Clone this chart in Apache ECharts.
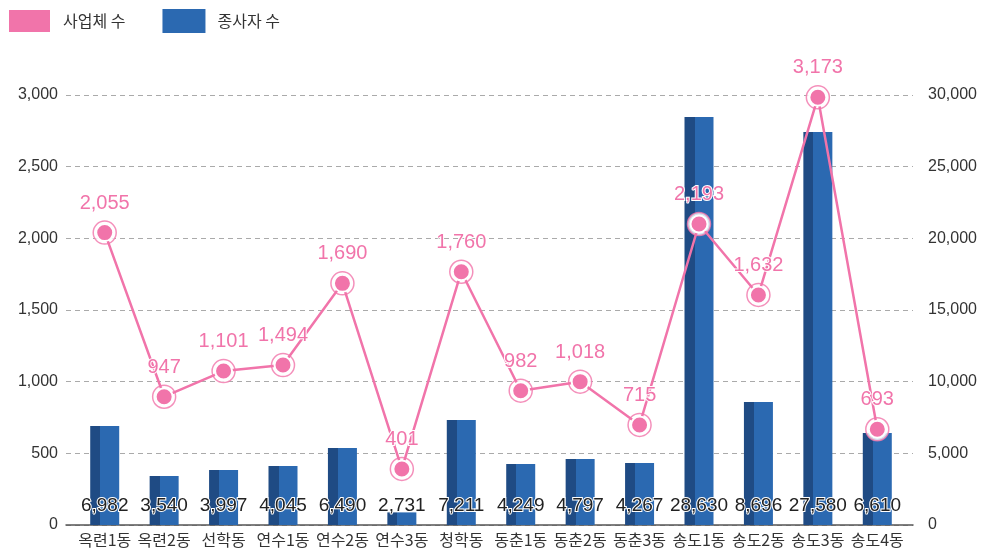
<!DOCTYPE html>
<html><head><meta charset="utf-8">
<script src="https://cdn.jsdelivr.net/npm/echarts@6/dist/echarts.min.js"></script>
<style>html,body{margin:0;padding:0;background:#fff}#c{width:987px;height:552px}</style>
</head><body><div id="c"></div>
<script>
const categories = ['옥련1동','옥련2동','선학동','연수1동','연수2동','연수3동','청학동','동춘1동','동춘2동','동춘3동','송도1동','송도2동','송도3동','송도4동'];
// plotted mark values (as drawn)
const bizValues = [2040, 895, 1074, 1116, 1686, 391, 1767, 937, 1000, 698, 2100, 1605, 2984, 668];
const empValues = [6907, 3419, 3837, 4116, 5372, 880, 7326, 4256, 4605, 4326, 28465, 8581, 27419, 6419];
// printed label texts
const bizLabels = [2055, 947, 1101, 1494, 1690, 401, 1760, 982, 1018, 715, 2193, 1632, 3173, 693];
const empLabels = [6982, 3540, 3997, 4045, 6490, 2731, 7211, 4249, 4797, 4267, 28630, 8696, 27580, 6610];
const leftTicks = {min: 0, max: 3000, interval: 500};
const rightTicks = {min: 0, max: 30000, interval: 5000};

const PINK = '#f174aa';
const DARK = '#1f4b84';
const BLUE = '#2b69b1';
const fmt = v => Number(v).toLocaleString('en-US');
const NUMFONT = 'Liberation Sans';

const chart = echarts.init(document.getElementById('c'));
chart.setOption({
  animation: false,
  legend: {
    left: 7, top: 8, padding: 0, itemWidth: 43, itemHeight: 24, itemGap: 37,
    icon: 'rect',
    textStyle: {fontFamily: 'Noto Sans CJK KR', fontSize: 16, color: '#333', padding: [0,0,0,7]},
    data: [{name: '사업체 수', itemStyle: {color: PINK}}, {name: '종사자 수', itemStyle: {color: BLUE}}]
  },
  grid: [
    {left: 66, right: 74, top: 95, bottom: 27},
    {left: 75, right: 80, top: 95, bottom: 27}
  ],
  xAxis: [
    {type: 'category', gridIndex: 0, data: categories, axisLine: {lineStyle: {color: '#555', width: 1.5}}, axisTick: {show: false}, axisLabel: {show: false}},
    {type: 'category', gridIndex: 1, data: categories, axisLine: {show: false}, axisTick: {show: false},
     axisLabel: {interval: 0, fontFamily: 'Noto Sans CJK KR', fontSize: 16, color: '#333', margin: 7}}
  ],
  yAxis: [
    {type: 'value', gridIndex: 0, position: 'left', ...leftTicks,
     axisLine: {show: false}, axisTick: {show: false},
     axisLabel: {formatter: fmt, fontFamily: 'Liberation Sans', fontSize: 16, color: '#333', margin: 8},
     splitLine: {lineStyle: {color: '#aaa', type: [5, 4], width: 1}}},
    {type: 'value', gridIndex: 0, position: 'right', ...rightTicks,
     axisLine: {show: false}, axisTick: {show: false},
     axisLabel: {formatter: fmt, fontFamily: 'Liberation Sans', fontSize: 16, color: '#333', margin: 15},
     splitLine: {show: false}},
    {type: 'value', gridIndex: 1, ...leftTicks, show: false},
    {type: 'value', gridIndex: 1, ...rightTicks, show: false}
  ],
  series: [
    {
      name: '종사자 수', type: 'bar', xAxisIndex: 1, yAxisIndex: 3, data: empValues, barWidth: 29, z: 2,
      itemStyle: {color: new echarts.graphic.LinearGradient(0, 0, 1, 0, [
        {offset: 0, color: DARK}, {offset: 0.345, color: DARK}, {offset: 0.345, color: BLUE}, {offset: 1, color: BLUE}])},
      label: {show: true, position: 'insideBottom', distance: 10,
        formatter: p => fmt(empLabels[p.dataIndex]),
        fontFamily: NUMFONT, fontSize: 19, color: '#222',
        textBorderColor: '#fff', textBorderWidth: 2}
    },
    {
      name: '사업체 수', type: 'line', xAxisIndex: 1, yAxisIndex: 2, data: bizValues, z: 4,
      lineStyle: {color: PINK, width: 2.5},
      symbol: 'circle', symbolSize: 17,
      itemStyle: {color: PINK, borderColor: '#fff', borderWidth: 2},
      label: {show: true, position: 'top', distance: 10,
        formatter: p => fmt(bizLabels[p.dataIndex]),
        fontFamily: NUMFONT, fontSize: 20, color: PINK,
        textBorderColor: '#fff', textBorderWidth: 2}
    },
    {
      name: 'ring', type: 'scatter', xAxisIndex: 1, yAxisIndex: 2, data: bizValues, z: 3,
      symbol: 'circle', symbolSize: 23, silent: true,
      itemStyle: {color: '#fff', borderColor: PINK, borderWidth: 1.5}
    }
  ]
});
</script></body></html>
